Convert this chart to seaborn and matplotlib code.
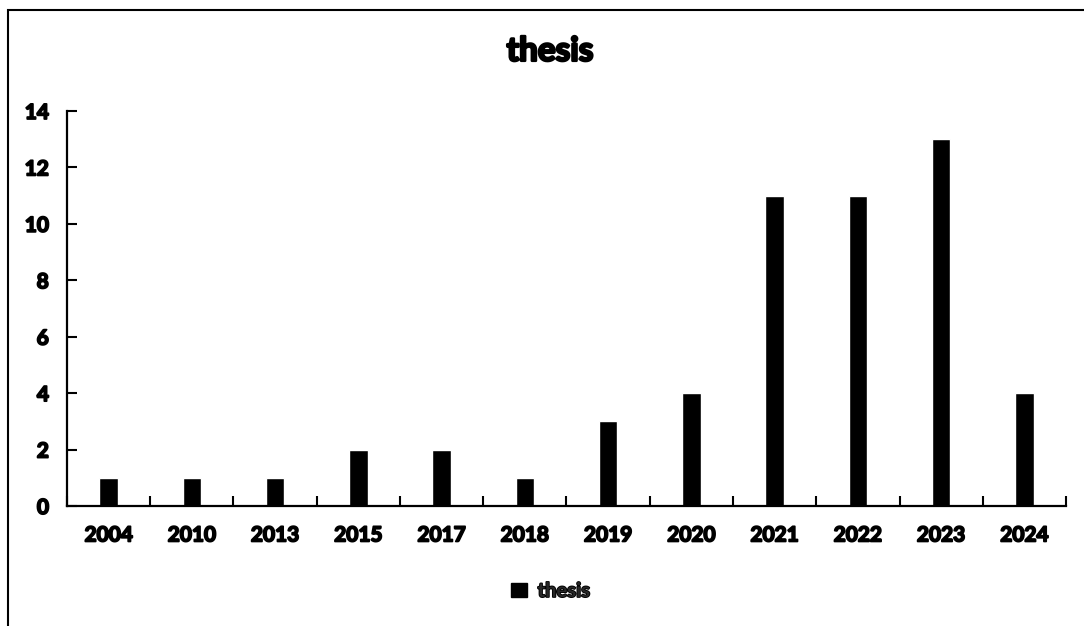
import matplotlib
matplotlib.use("Agg")
import matplotlib.pyplot as plt
import matplotlib.patheffects as pe
import seaborn as sns
import pandas as pd
from matplotlib.patches import Patch, Rectangle
from matplotlib.ticker import FixedLocator

years = ["2004", "2010", "2013", "2015", "2017", "2018",
         "2019", "2020", "2021", "2022", "2023", "2024"]
counts = [1, 1, 1, 2, 2, 1, 3, 4, 11, 11, 13, 4]
series_name = "thesis"
y_ticks = [0, 2, 4, 6, 8, 10, 12, 14]

sns.set_theme(style="white")
plt.rcParams["font.family"] = ["Lato", "DejaVu Sans"]
plt.rcParams["font.weight"] = "bold"

# heavy outline to give the labels an extra-bold look
heavy = [pe.withStroke(linewidth=1.3, foreground="black")]

df = pd.DataFrame({"year": years, "count": counts})

fig = plt.figure(figsize=(10.84, 6.26), dpi=100)
ax = fig.add_axes([0.0618, 0.1917, 0.9216, 0.631])

sns.barplot(data=df, x="year", y="count", color="black", width=0.22,
            saturation=1, ax=ax, order=years)

ax.set_xlim(-0.5, len(years) - 0.5)
ax.set_ylim(0, 14)
ax.set_yticks(y_ticks)
ax.set_yticklabels([str(t) for t in y_ticks], fontsize=15, fontweight="bold")
ax.set_xticks(range(len(years)))
ax.set_xticklabels(years, fontsize=15, fontweight="bold")
ax.set_xlabel("")
ax.set_ylabel("")
for lbl in ax.get_xticklabels() + ax.get_yticklabels():
    lbl.set_path_effects(heavy)

# category boundaries as inward minor ticks on the x axis
ax.xaxis.set_minor_locator(FixedLocator([i - 0.5 for i in range(len(years) + 1)]))
ax.tick_params(axis="x", which="major", length=0, pad=14, colors="black")
ax.tick_params(axis="x", which="minor", length=7, width=1.5, direction="in",
               bottom=True, color="black")
ax.tick_params(axis="y", which="major", length=7, width=1.5, direction="in",
               left=True, pad=13, colors="black")

for side in ["top", "right"]:
    ax.spines[side].set_visible(False)
for side in ["left", "bottom"]:
    ax.spines[side].set_linewidth(1.6)
    ax.spines[side].set_color("black")

fig.text(0.5075, 0.918, series_name, ha="center", va="center",
         fontsize=24, fontweight="bold", color="black",
         path_effects=[pe.withStroke(linewidth=1.8, foreground="black")])

handle = Patch(facecolor="black", edgecolor="black", label=series_name)
leg = fig.legend(handles=[handle], loc="center", bbox_to_anchor=(0.508, 0.056),
                 frameon=False, handlelength=0.75, handleheight=0.75,
                 handletextpad=0.55, prop={"size": 14.5, "weight": "bold"})
for t in leg.get_texts():
    t.set_path_effects(heavy)

# outer frame around the chart area
frame = Rectangle((8 / 1084, -0.1), 1.2, 1 - 10 / 626 + 0.1,
                  transform=fig.transFigure, fill=False,
                  edgecolor="black", linewidth=1.5)
fig.patches.append(frame)

fig.savefig("out.png", dpi=100)
